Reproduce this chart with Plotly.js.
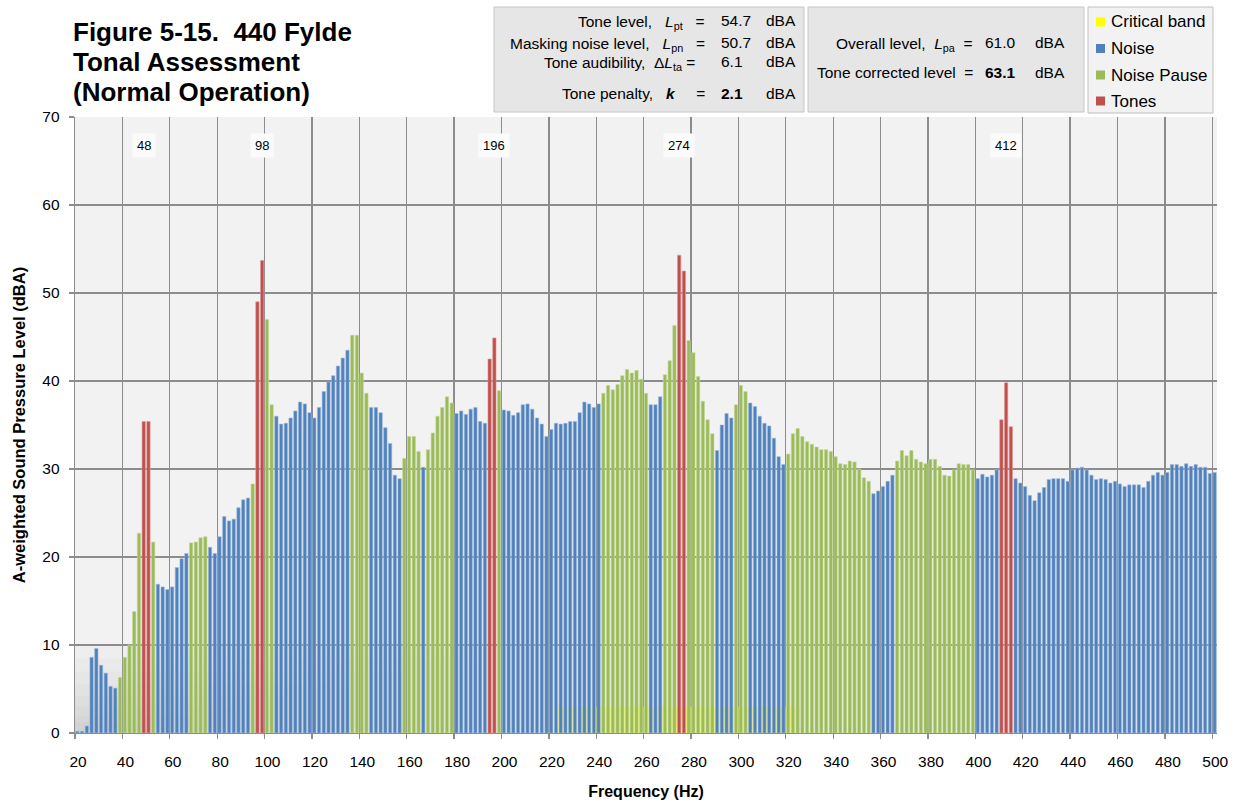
<!DOCTYPE html>
<html>
<head>
<meta charset="utf-8">
<script src="https://cdn.plot.ly/plotly-3.0.1.min.js"></script>
<style>
  html, body { margin: 0; padding: 0; background: #fff; }
  #chart { width: 1241px; height: 803px; }
</style>
</head>
<body>
<div id="chart"></div>
<script>
// FFT bins, 2 Hz apart, 20..500 Hz (one category per bin)
const binStart = 20, binStep = 2, binEnd = 500;

// A-weighted level of each bin (dBA), rows of 10 bins (20 Hz)
const levels = [
  0.2, 0.2, 0.8, 8.6, 9.6, 7.7, 6.8, 5.3, 5.1, 6.3,          // 20-38
  8.6, 10.0, 13.8, 22.7, 35.4, 35.4, 21.7, 16.9, 16.6, 16.3,  // 40-58
  16.6, 18.8, 19.8, 20.4, 21.6, 21.7, 22.2, 22.3, 21.1, 20.4, // 60-78
  22.3, 24.6, 24.1, 24.3, 25.6, 26.5, 26.7, 28.3, 49.0, 53.7, // 80-98
  47.0, 37.3, 36.0, 35.1, 35.2, 35.8, 36.6, 37.6, 37.4, 36.4, // 100-118
  35.8, 37.0, 38.8, 39.9, 40.6, 41.7, 42.6, 43.5, 45.2, 45.2, // 120-138
  40.9, 38.6, 37.0, 37.0, 36.4, 34.7, 32.9, 29.3, 28.9, 31.2, // 140-158
  33.7, 33.7, 32.0, 30.2, 32.2, 34.1, 36.0, 37.0, 38.2, 37.5, // 160-178
  36.3, 36.6, 36.2, 36.8, 37.0, 35.4, 35.2, 42.5, 44.9, 38.9, // 180-198
  36.7, 36.6, 36.1, 36.4, 37.3, 37.4, 36.8, 35.8, 35.1, 33.7, // 200-218
  34.5, 35.2, 35.1, 35.2, 35.4, 35.4, 36.4, 37.6, 37.4, 37.0, // 220-238
  37.4, 38.6, 39.5, 39.0, 39.6, 40.6, 41.3, 40.9, 41.2, 40.2, // 240-258
  38.6, 37.3, 37.3, 38.2, 40.7, 42.3, 46.3, 54.3, 52.5, 44.6, // 260-278
  43.2, 40.5, 37.7, 35.6, 34.0, 32.1, 35.0, 36.3, 35.8, 37.3, // 280-298
  39.5, 38.8, 37.5, 37.1, 36.0, 35.2, 34.9, 33.5, 31.4, 30.5, // 300-318
  31.7, 34.0, 34.6, 33.7, 33.1, 32.8, 32.5, 32.2, 32.2, 32.0, // 320-338
  31.4, 30.6, 30.5, 30.9, 30.8, 30.0, 29.0, 28.6, 27.2, 27.5, // 340-358
  28.0, 28.6, 29.3, 30.9, 32.1, 31.5, 32.1, 31.1, 30.8, 30.6, // 360-378
  31.1, 31.1, 30.3, 29.3, 29.2, 29.9, 30.6, 30.5, 30.5, 29.9, // 380-398
  28.9, 29.4, 29.1, 29.3, 29.9, 35.6, 39.8, 34.8, 28.9, 28.4, // 400-418
  28.0, 27.0, 26.4, 27.3, 27.9, 28.8, 28.9, 28.9, 28.9, 28.6, // 420-438
  29.9, 30.1, 30.2, 29.9, 29.3, 28.8, 28.9, 28.8, 28.4, 28.6, // 440-458
  28.3, 28.0, 28.2, 28.2, 28.2, 27.9, 28.6, 29.3, 29.6, 29.3, // 460-478
  29.6, 30.5, 30.5, 30.3, 30.6, 30.3, 30.5, 30.2, 30.2, 29.5, // 480-498
  29.6                                                        // 500
];

// bins classified as tones / noise pause (everything else is noise)
const toneBins = [48, 50, 96, 98, 194, 196, 274, 276, 410, 412, 414];
const pauseRanges = [[38, 46], [52, 52], [68, 74], [94, 94], [100, 102], [136, 142],
  [158, 164], [168, 178], [198, 198], [242, 260], [268, 272], [278, 288],
  [298, 302], [320, 354], [366, 398]];
const criticalBand = [224, 324];
const criticalLevel = 3;

// tone frequencies labelled at the top
const toneLabels = [48, 98, 196, 274, 412];

// info panel values
const toneLevel = '54.7', maskingLevel = '50.7', audibility = '6.1', penalty = '2.1';
const overallLevel = '61.0', correctedLevel = '63.1';

const seriesNames = ['Critical band', 'Noise', 'Noise Pause', 'Tones'];
const seriesColors = ['#ffff00', '#4f81bd', '#9bbb59', '#c0504d'];
const edgeColors = ['#ffff00', '#9db8da', '#c4d89f', '#dc9a98'];
const FONT = 'Arial, "Liberation Sans", sans-serif';

const freqs = [];
for (let f = binStart; f <= binEnd; f += binStep) freqs.push(f);

function classify(f) {
  if (toneBins.includes(f)) return 3;
  if (pauseRanges.some(r => f >= r[0] && f <= r[1])) return 2;
  return 1;
}

const series = [null, { x: [], y: [] }, { x: [], y: [] }, { x: [], y: [] }];
freqs.forEach((f, i) => {
  const s = series[classify(f)];
  s.x.push(f);
  s.y.push(levels[i]);
});

const critX = freqs.filter(f => f >= criticalBand[0] && f <= criticalBand[1]);
const critY = critX.map(() => criticalLevel);

const data = [{
  type: 'bar', name: seriesNames[0], x: critX, y: critY,
  width: 2, offset: 0, opacity: 0.6,
  marker: { color: seriesColors[0] }, hoverinfo: 'skip'
}];
for (let k = 1; k <= 3; k++) {
  data.push({
    type: 'bar', name: seriesNames[k], x: series[k].x, y: series[k].y,
    width: 1.4, offset: 0.3,
    marker: { color: seriesColors[k], line: { color: edgeColors[k], width: 0.6 } },
    hoverinfo: 'x+y'
  });
}

// pixel -> paper helpers (plot area 75..1217 x 117..733)
const PL = 75, PR = 1217, PT = 117, PB = 733;
const px = x => (x - PL) / (PR - PL);
const py = y => (PB - y) / (PB - PT);

const NB = '\u00a0';
function txt(x, y, text, anchor, size) {
  return {
    xref: 'paper', yref: 'paper', x: px(x), y: py(y),
    xanchor: anchor, yanchor: 'middle', text: text, showarrow: false,
    font: { family: FONT, size: size || 15.5, color: '#000' }
  };
}

const titleLines = ['Figure 5-15.' + NB + NB + '440 Fylde', 'Tonal Assessment', '(Normal Operation)'];
const annotations = [];
titleLines.forEach((t, i) => {
  annotations.push(txt(71, 32 + i * 30, '<b>' + t + '</b>', 'left', 26));
});

annotations.push(
  // box 1
  txt(707, 23, 'Tone level,' + NB + NB + NB + '<i>L</i><sub>pt</sub>' + NB + NB + ' =', 'right'),
  txt(719, 21, toneLevel, 'left'), txt(764, 21, 'dBA', 'left'),
  txt(707, 44, 'Masking noise level,' + NB + NB + NB + '<i>L</i><sub>pn</sub>' + NB + NB + ' =', 'right'),
  txt(719, 42, maskingLevel, 'left'), txt(764, 42, 'dBA', 'left'),
  txt(697, 63, 'Tone audibility,' + NB + ' Δ<i>L</i><sub>ta</sub> =', 'right'),
  txt(719, 61, audibility, 'left'), txt(764, 61, 'dBA', 'left'),
  txt(707, 94, 'Tone penalty,' + NB + NB + NB + '<b><i>k</i></b>' + NB + NB + NB + NB + NB + '=', 'right'),
  txt(719, 94, '<b>' + penalty + '</b>', 'left'), txt(764, 94, 'dBA', 'left'),
  // box 2
  txt(975, 44, 'Overall level,' + NB + NB + '<i>L</i><sub>pa</sub>' + NB + ' =', 'right'),
  txt(983, 42, overallLevel, 'left'), txt(1033, 42, 'dBA', 'left'),
  txt(975, 72, 'Tone corrected level' + NB + NB + '=', 'right'),
  txt(983, 72, '<b>' + correctedLevel + '</b>', 'left'), txt(1033, 72, 'dBA', 'left')
);

toneLabels.forEach(f => {
  annotations.push({
    xref: 'x', yref: 'y', x: f + 1, y: 66.8, text: String(f), showarrow: false,
    bgcolor: '#fbfbfb', borderpad: 4,
    font: { family: FONT, size: 13, color: '#000' }
  });
});

const shapes = [
  { type: 'rect', xref: 'paper', yref: 'paper', x0: px(494), x1: px(804), y0: py(7), y1: py(112),
    fillcolor: '#e6e6e6', line: { color: '#c6c6c6', width: 1 } },
  { type: 'rect', xref: 'paper', yref: 'paper', x0: px(808), x1: px(1084), y0: py(7), y1: py(112),
    fillcolor: '#e6e6e6', line: { color: '#c6c6c6', width: 1 } },
  // legend box
  { type: 'rect', xref: 'paper', yref: 'paper', x0: px(1088), x1: px(1213), y0: py(7), y1: py(113),
    fillcolor: '#f2f2f2', line: { color: '#bfbfbf', width: 1 } }
];

// soft darkening of the plot floor towards the lower left
[[220, 10], [190, 8.5], [160, 7], [135, 5.5], [110, 4.2], [90, 3], [70, 2], [50, 1.2]].forEach(r => {
  shapes.push({
    type: 'rect', xref: 'x', yref: 'y', x0: 20, x1: r[0], y0: 0, y1: r[1],
    fillcolor: 'rgba(0,0,0,0.014)', line: { width: 0 }, layer: 'below'
  });
});

// legend entries
const legendRows = [22, 48.5, 75, 101];
seriesNames.forEach((name, i) => {
  const cy = legendRows[i];
  shapes.push({
    type: 'rect', xref: 'paper', yref: 'paper',
    x0: px(1096), x1: px(1105), y0: py(cy + 4.5), y1: py(cy - 4.5),
    fillcolor: seriesColors[i], line: { width: 0 }
  });
  annotations.push(txt(1109, cy, name, 'left', 17));
});

const gridColor = '#8c8c8c';

const layout = {
  width: 1241, height: 803,
  margin: { l: PL, r: 1241 - PR, t: PT, b: 803 - PB, pad: 0, autoexpand: false },
  paper_bgcolor: '#ffffff',
  plot_bgcolor: '#f2f2f2',
  barmode: 'overlay',
  font: { family: FONT, color: '#000' },
  showlegend: false,
  xaxis: {
    range: [20, 502], tick0: 20, dtick: 20,
    showgrid: true, gridcolor: gridColor, gridwidth: 1.3,
    showline: true, linecolor: gridColor, linewidth: 1.3,
    ticks: 'outside', ticklen: 5, tickcolor: gridColor, tickwidth: 1.3,
    ticklabelshift: 3, ticklabelstandoff: 9,
    tickfont: { family: FONT, size: 15.5, color: '#000' },
    zeroline: false, fixedrange: true,
    title: { text: '<b>Frequency (Hz)</b>', font: { family: FONT, size: 16, color: '#000' }, standoff: 17 }
  },
  yaxis: {
    range: [0, 70], dtick: 10,
    showgrid: true, gridcolor: gridColor, gridwidth: 1.3,
    showline: true, linecolor: gridColor, linewidth: 1.3,
    ticks: 'outside', ticklen: 5, tickcolor: gridColor, tickwidth: 1.3,
    ticklabelstandoff: 6,
    tickfont: { family: FONT, size: 15.5, color: '#000' },
    zeroline: false, fixedrange: true,
    title: { text: '<b>A-weighted Sound Pressure Level (dBA)</b>', font: { family: FONT, size: 16.5, color: '#000' }, standoff: 12 }
  },
  annotations: annotations,
  shapes: shapes
};

Plotly.newPlot('chart', data, layout, { displayModeBar: false, staticPlot: true });
</script>
</body>
</html>
